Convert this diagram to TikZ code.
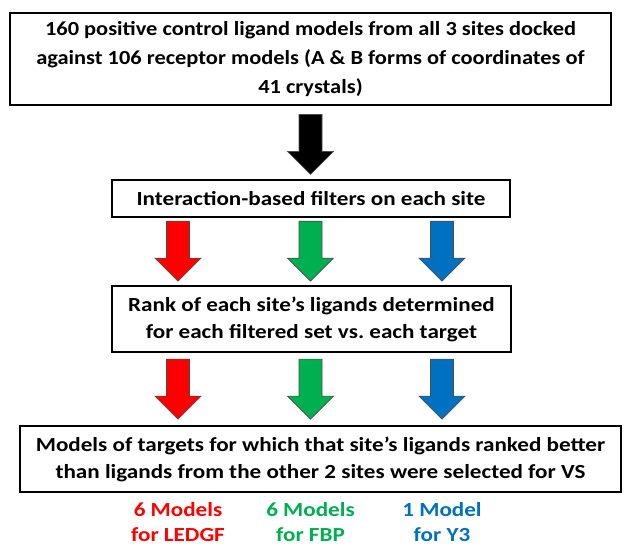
\documentclass[tikz,border=0pt]{standalone}
\usepackage{fontspec}
\setmainfont{Carlito}[FakeStretch=1.155]
\newfontfamily\headfont{Carlito}[FakeStretch=1.12]
\usetikzlibrary{calc}
\definecolor{ledgfred}{HTML}{FF0000}
\definecolor{fbpgreen}{HTML}{00B050}
\definecolor{ythreeblue}{HTML}{0070C0}
\frenchspacing

\begin{document}
\begin{tikzpicture}[x=1bp,y=-1bp,line width=0.8pt]
\tikzset{stepbox/.style={draw,line width=2.2bp,inner sep=0pt,align=center,
    font=\fontsize{20bp}{27bp}\selectfont\bfseries}}
\tikzset{sitelabel/.style={align=center,inner sep=0pt,
    font=\fontsize{20bp}{25bp}\selectfont\bfseries,text=#1}}
\tikzset{fatarrow/.style={fill=#1,draw=black!70,line width=0.7bp,
    to path={let \p1=(\tikztostart),\p2=(\tikztotarget),\n1={0.5*(\y1+\y2)} in
      (\x1-11.5bp,\n1+30bp) -- (\x1+11.5bp,\n1+30bp) -- (\x1+11.5bp,\n1-7bp)
      -- (\x1+23bp,\n1-7bp) -- (\x1,\n1-30bp) -- (\x1-23bp,\n1-7bp)
      -- (\x1-11.5bp,\n1-7bp) -- cycle}}}
\useasboundingbox (0,0) rectangle (625,547);
% ---------- columns of the three sites ----------
\coordinate (colL) at (178,0);
\coordinate (colM) at (310.5,0);
\coordinate (colR) at (442,0);
% ---------- boxes ----------
\node[stepbox,font=\fontsize{20bp}{29bp}\headfont\bfseries,
      minimum width=601bp,minimum height=92bp] (docked) at (310.5,59)
  {160 positive control ligand models from all 3 sites docked\\
   against 106 receptor models (A \& B forms of coordinates of\\
   41 crystals)};
\node[stepbox,minimum width=398bp,minimum height=36.7bp] (filters) at (311,198.3)
  {Interaction-based filters on each site};
\node[stepbox,minimum width=399bp,minimum height=66.5bp] (rank) at (311.5,319)
  {Rank of each site’s ligands determined\\
   for each filtered set vs. each target};
\node[stepbox,minimum width=601bp,minimum height=66bp] (select) at (320.5,459)
  {Models of targets for which that site’s ligands ranked better\\
   than ligands from the other 2 sites were selected for VS};
% ---------- block arrows ----------
\draw[fatarrow=black] ([yshift=-2bp]docked.south -| colM) to ([yshift=-2bp]filters.north -| colM);
\draw[fatarrow=ledgfred]   (filters.south -| colL) to (rank.north -| colL);
\draw[fatarrow=fbpgreen]   (filters.south -| colM) to (rank.north -| colM);
\draw[fatarrow=ythreeblue] (filters.south -| colR) to (rank.north -| colR);
\draw[fatarrow=ledgfred]   (rank.south -| colL) to (select.north -| colL);
\draw[fatarrow=fbpgreen]   (rank.south -| colM) to (select.north -| colM);
\draw[fatarrow=ythreeblue] (rank.south -| colR) to (select.north -| colR);
% ---------- selected models per site ----------
\node[sitelabel=ledgfred]   (ledgf) at (178,522) {6 Models\\for LEDGF};
\node[sitelabel=fbpgreen]   (fbp)   at (310.5,522) {6 Models\\for FBP};
\node[sitelabel=ythreeblue] (ythree) at (442,522) {1 Model\\for Y3};
\end{tikzpicture}
\end{document}
